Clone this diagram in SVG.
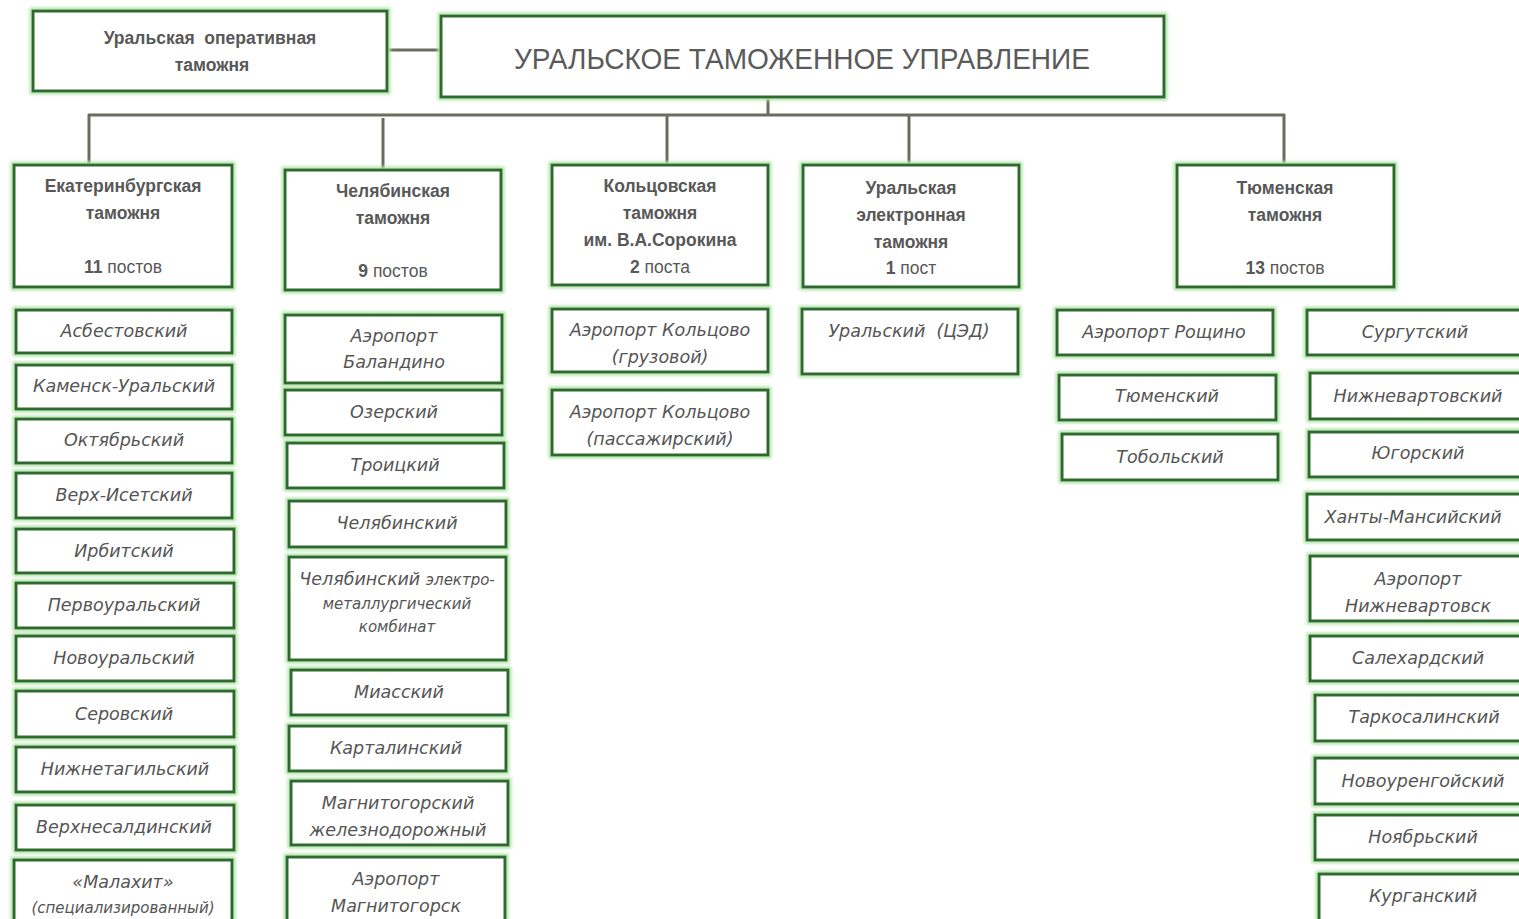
<svg xmlns="http://www.w3.org/2000/svg" width="1519" height="919" viewBox="0 0 1519 919">
<defs>
<filter id="glow" x="-5%" y="-10%" width="110%" height="120%">
<feMorphology in="SourceAlpha" operator="dilate" radius="2" result="d"/>
<feGaussianBlur in="d" stdDeviation="1.5" result="b"/>
<feFlood flood-color="#b4e6ac"/>
<feComposite in2="b" operator="in" result="c"/>
<feMerge><feMergeNode in="c"/><feMergeNode in="SourceGraphic"/></feMerge>
</filter>
</defs>
<style>
.box{fill:#fff;stroke:#2e6a2e;stroke-width:3;filter:url(#glow)}
.hd{font-family:"Liberation Sans",Arial,sans-serif;font-weight:bold;font-size:17.5px;fill:#585858;text-anchor:middle}
.nm{font-weight:normal}
.pt{font-family:"DejaVu Sans",sans-serif;font-style:italic;font-size:17.5px;fill:#555;text-anchor:middle}
.sm{font-size:15px}
.ttl{font-family:"Liberation Sans",Arial,sans-serif;font-size:30px;fill:#5a5a5a;text-anchor:middle}
.ln{stroke:#6c6c5e;stroke-width:3;fill:none}
</style>
<rect width="1519" height="919" fill="#fff"/>

<g id="connectors">
<line class="ln" x1="387" y1="50" x2="441" y2="50"/>
<line class="ln" x1="768" y1="97" x2="768" y2="115"/>
<line class="ln" x1="88" y1="115" x2="1285" y2="115"/>
<line class="ln" x1="89" y1="114" x2="89" y2="165"/>
<line class="ln" x1="383" y1="118" x2="383" y2="170"/>
<line class="ln" x1="667" y1="114" x2="667" y2="165"/>
<line class="ln" x1="909" y1="114" x2="909" y2="165"/>
<line class="ln" x1="1284" y1="114" x2="1284" y2="165"/>
</g>

<g id="ural-operative">
<rect class="box" x="33" y="11" width="354" height="80"/>
<text class="hd" x="210" y="44" xml:space="preserve">Уральская  оперативная</text>
<text class="hd" x="212" y="71">таможня</text>
</g>

<g id="ural-main">
<rect class="box" x="441" y="16" width="723" height="81"/>
<text class="ttl" x="802" y="69" textLength="576" lengthAdjust="spacingAndGlyphs">УРАЛЬСКОЕ ТАМОЖЕННОЕ УПРАВЛЕНИЕ</text>
</g>

<g id="ekb">
<rect class="box" x="14" y="165" width="218" height="122"/>
<text class="hd" x="123" y="192">Екатеринбургская</text>
<text class="hd" x="123" y="219">таможня</text>
<text class="hd" x="123" y="273">11 <tspan class="nm">постов</tspan></text>
</g>

<g id="chel">
<rect class="box" x="285" y="170" width="216" height="120"/>
<text class="hd" x="393" y="197">Челябинская</text>
<text class="hd" x="393" y="224">таможня</text>
<text class="hd" x="393" y="277">9 <tspan class="nm">постов</tspan></text>
</g>

<g id="kolts">
<rect class="box" x="552" y="165" width="216" height="120"/>
<text class="hd" x="660" y="192">Кольцовская</text>
<text class="hd" x="660" y="219">таможня</text>
<text class="hd" x="660" y="246">им. В.А.Сорокина</text>
<text class="hd" x="660" y="273">2 <tspan class="nm">поста</tspan></text>
</g>

<g id="uel">
<rect class="box" x="803" y="165" width="216" height="122"/>
<text class="hd" x="911" y="194">Уральская</text>
<text class="hd" x="911" y="221">электронная</text>
<text class="hd" x="911" y="248">таможня</text>
<text class="hd" x="911" y="274">1 <tspan class="nm">пост</tspan></text>
</g>

<g id="tyum">
<rect class="box" x="1177" y="165" width="217" height="122"/>
<text class="hd" x="1285" y="194">Тюменская</text>
<text class="hd" x="1285" y="221">таможня</text>
<text class="hd" x="1285" y="274">13 <tspan class="nm">постов</tspan></text>
</g>

<g id="ekb-posts">
<g id="p-asb"><rect class="box" x="16" y="310" width="216" height="43"/><text class="pt" x="124" y="337">Асбестовский</text></g>
<g id="p-kam"><rect class="box" x="16" y="365" width="216" height="44"/><text class="pt" x="124" y="392">Каменск-Уральский</text></g>
<g id="p-okt"><rect class="box" x="16" y="419" width="216" height="44"/><text class="pt" x="124" y="446">Октябрьский</text></g>
<g id="p-vis"><rect class="box" x="16" y="473" width="216" height="45"/><text class="pt" x="124" y="501">Верх-Исетский</text></g>
<g id="p-irb"><rect class="box" x="16" y="529" width="218" height="44"/><text class="pt" x="124" y="557">Ирбитский</text></g>
<g id="p-per"><rect class="box" x="16" y="583" width="218" height="45"/><text class="pt" x="124" y="611">Первоуральский</text></g>
<g id="p-nov"><rect class="box" x="16" y="636" width="218" height="45"/><text class="pt" x="124" y="664">Новоуральский</text></g>
<g id="p-ser"><rect class="box" x="16" y="691" width="218" height="46"/><text class="pt" x="124" y="720">Серовский</text></g>
<g id="p-nt"><rect class="box" x="16" y="747" width="218" height="45"/><text class="pt" x="125" y="775">Нижнетагильский</text></g>
<g id="p-vs"><rect class="box" x="16" y="805" width="218" height="45"/><text class="pt" x="124" y="833">Верхнесалдинский</text></g>
<g id="p-mal"><rect class="box" x="14" y="860" width="218" height="70"/><text class="pt" x="123" y="888">«Малахит»</text><text class="pt sm" x="123" y="913">(специализированный)</text></g>
</g>

<g id="chel-posts">
<g id="p-bal"><rect class="box" x="285" y="315" width="217" height="68"/><text class="pt" x="394" y="342">Аэропорт</text><text class="pt" x="394" y="368">Баландино</text></g>
<g id="p-oz"><rect class="box" x="285" y="390" width="217" height="45"/><text class="pt" x="394" y="418">Озерский</text></g>
<g id="p-tr"><rect class="box" x="287" y="443" width="217" height="45"/><text class="pt" x="395" y="471">Троицкий</text></g>
<g id="p-chel"><rect class="box" x="289" y="501" width="217" height="46"/><text class="pt" x="397" y="529">Челябинский</text></g>
<g id="p-chemk"><rect class="box" x="289" y="557" width="217" height="103"/><text class="pt" x="397" y="585">Челябинский <tspan class="sm">электро-</tspan></text><text class="pt sm" x="397" y="609">металлургический</text><text class="pt sm" x="397" y="632">комбинат</text></g>
<g id="p-mia"><rect class="box" x="291" y="670" width="217" height="45"/><text class="pt" x="399" y="698">Миасский</text></g>
<g id="p-kar"><rect class="box" x="289" y="726" width="217" height="45"/><text class="pt" x="396" y="754">Карталинский</text></g>
<g id="p-mzd"><rect class="box" x="291" y="781" width="217" height="64"/><text class="pt" x="398" y="809">Магнитогорский</text><text class="pt" x="398" y="836">железнодорожный</text></g>
<g id="p-amg"><rect class="box" x="287" y="857" width="218" height="75"/><text class="pt" x="396" y="885">Аэропорт</text><text class="pt" x="396" y="912">Магнитогорск</text></g>
</g>

<g id="kolts-posts">
<g id="p-kg"><rect class="box" x="552" y="309" width="216" height="63"/><text class="pt" x="660" y="336">Аэропорт Кольцово</text><text class="pt" x="660" y="363">(грузовой)</text></g>
<g id="p-kp"><rect class="box" x="552" y="390" width="216" height="65"/><text class="pt" x="660" y="418">Аэропорт Кольцово</text><text class="pt" x="660" y="445">(пассажирский)</text></g>
</g>

<g id="uel-posts">
<g id="p-ced"><rect class="box" x="802" y="309" width="216" height="65"/><text class="pt" x="909" y="337" xml:space="preserve">Уральский  (ЦЭД)</text></g>
</g>

<g id="tyum-posts">
<g id="p-rosh"><rect class="box" x="1057" y="310" width="216" height="45"/><text class="pt" x="1164" y="338">Аэропорт Рощино</text></g>
<g id="p-tyu"><rect class="box" x="1059" y="375" width="217" height="45"/><text class="pt" x="1167" y="402">Тюменский</text></g>
<g id="p-tob"><rect class="box" x="1062" y="434" width="216" height="46"/><text class="pt" x="1170" y="463">Тобольский</text></g>
<g id="p-sur"><rect class="box" x="1307" y="310" width="230" height="45"/><text class="pt" x="1415" y="338">Сургутский</text></g>
<g id="p-nv"><rect class="box" x="1310" y="373" width="230" height="46"/><text class="pt" x="1418" y="402">Нижневартовский</text></g>
<g id="p-yug"><rect class="box" x="1309" y="432" width="230" height="45"/><text class="pt" x="1418" y="459">Югорский</text></g>
<g id="p-hm"><rect class="box" x="1307" y="494" width="230" height="46"/><text class="pt" x="1413" y="523">Ханты-Мансийский</text></g>
<g id="p-anv"><rect class="box" x="1310" y="556" width="230" height="65"/><text class="pt" x="1418" y="585">Аэропорт</text><text class="pt" x="1418" y="612">Нижневартовск</text></g>
<g id="p-sal"><rect class="box" x="1310" y="636" width="230" height="45"/><text class="pt" x="1418" y="664">Салехардский</text></g>
<g id="p-tar"><rect class="box" x="1315" y="695" width="230" height="46"/><text class="pt" x="1424" y="723">Таркосалинский</text></g>
<g id="p-nur"><rect class="box" x="1315" y="758" width="230" height="46"/><text class="pt" x="1423" y="787">Новоуренгойский</text></g>
<g id="p-noy"><rect class="box" x="1315" y="815" width="230" height="45"/><text class="pt" x="1423" y="843">Ноябрьский</text></g>
<g id="p-kur"><rect class="box" x="1319" y="874" width="230" height="60"/><text class="pt" x="1423" y="902">Курганский</text></g>
</g>
</svg>
